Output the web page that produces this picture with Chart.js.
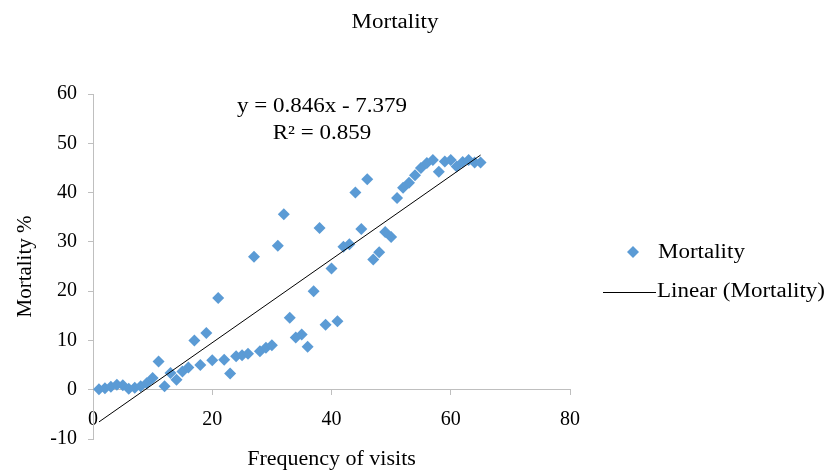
<!DOCTYPE html>
<html>
<head>
<meta charset="utf-8">
<script src="https://cdn.jsdelivr.net/npm/chart.js@4"></script>
<style>
  html, body { margin: 0; padding: 0; background: #fff; }
  #wrap { width: 825px; height: 470px; }
</style>
</head>
<body>
<div id="wrap"><canvas id="chart" width="825" height="470"></canvas></div>
<script>
const visits = [
  1, 2, 3, 4, 5, 6, 7, 8, 9, 10, 11, 12, 13, 14, 15, 16, 17, 18, 19, 20,
  21, 22, 23, 24, 25, 26, 27, 28, 29, 30, 31, 32, 33, 34, 35, 36, 37, 38, 39, 40,
  41, 42, 43, 44, 45, 46, 47, 48, 49, 50, 51, 52, 53, 54, 55, 56, 57, 58, 59, 60,
  61, 62, 63, 64, 65,
];
const mortality = [
  0.1, 0.3, 0.6, 1.0, 0.9, 0.2, 0.4, 0.7, 1.3, 2.4, 5.7, 0.7, 3.4, 2.0, 3.7, 4.5, 10.0, 5.0, 11.5, 6.0,
  18.6, 6.1, 3.3, 6.8, 7.0, 7.3, 27.0, 7.8, 8.5, 9.0, 29.2, 35.6, 14.6, 10.6, 11.2, 8.7, 20.0, 32.8, 13.2, 24.6,
  13.9, 29.0, 29.5, 40.0, 32.6, 42.7, 26.4, 27.9, 32.0, 31.0, 38.9, 41.0, 42.0, 43.5, 45.0, 46.0, 46.6, 44.2, 46.3, 46.6,
  45.3, 46.2, 46.6, 46.1, 46.1,
];

// trendline as printed on the chart
const slope = 0.846;
const intercept = -7.379;
const rSquared = 0.859;
const trendX = [1, 65];

const xTicks = [0, 20, 40, 60, 80];
const yTicks = [-10, 0, 10, 20, 30, 40, 50, 60];

const serif = "'Liberation Serif', 'Times New Roman', serif";
const blue = "#5b9bd5";
const axisGray = "#bfbfbf";

const scatterPoints = visits.map((x, i) => ({ x, y: mortality[i] }));
const trendPoints = trendX.map((x) => ({ x, y: slope * x + intercept }));

// the original renders its serif text a bit wider than Liberation Serif
const wideText = (ctx, text, x, y, align) => {
  ctx.save();
  ctx.translate(x, y);
  ctx.scale(1.15, 1);
  ctx.textAlign = align;
  ctx.fillText(text, 0, 0);
  ctx.restore();
};

const extras = {
  id: "extras",
  afterDraw(chart) {
    const { ctx } = chart;
    ctx.save();
    ctx.fillStyle = "#000";
    ctx.textBaseline = "middle";
    ctx.font = `20px ${serif}`;

    wideText(ctx, "Mortality", 395, 23, "center");

    // trendline label
    wideText(ctx, `y = ${slope}x - ${Math.abs(intercept)}`, 322, 107, "center");
    wideText(ctx, `R² = ${rSquared}`, 322, 134, "center");

    // legend
    ctx.fillStyle = blue;
    ctx.beginPath();
    ctx.moveTo(633, 246);
    ctx.lineTo(639, 252);
    ctx.lineTo(633, 258);
    ctx.lineTo(627, 252);
    ctx.closePath();
    ctx.fill();
    ctx.fillStyle = "#000";
    wideText(ctx, "Mortality", 658, 253, "left");

    ctx.strokeStyle = "#000";
    ctx.lineWidth = 1;
    ctx.beginPath();
    ctx.moveTo(603, 292.5);
    ctx.lineTo(656, 292.5);
    ctx.stroke();
    wideText(ctx, "Linear (Mortality)", 657, 292, "left");
    ctx.restore();
  },
};

new Chart(document.getElementById("chart"), {
  type: "scatter",
  data: {
    datasets: [
      {
        label: "Mortality",
        data: scatterPoints,
        pointStyle: "rectRot",
        pointRadius: 6,
        pointHoverRadius: 6,
        backgroundColor: blue,
        borderColor: blue,
        borderWidth: 0,
        order: 2,
      },
      {
        label: "Linear (Mortality)",
        data: trendPoints,
        showLine: true,
        pointRadius: 0,
        borderColor: "#000",
        borderWidth: 1,
        fill: false,
        order: 1,
      },
    ],
  },
  options: {
    responsive: false,
    animation: false,
    layout: {
      padding: { top: 94, right: 255, bottom: 31, left: 0 },
    },
    plugins: {
      legend: { display: false },
      title: { display: false },
      tooltip: { enabled: false },
    },
    scales: {
      x: {
        type: "linear",
        position: { y: 0 },
        min: 0,
        max: 80,
        afterBuildTicks: (scale) => {
          scale.ticks = xTicks.map((value) => ({ value }));
        },
        border: { color: axisGray, width: 1 },
        grid: { drawOnChartArea: false, drawTicks: true, tickLength: 5, color: axisGray },
        ticks: { color: "#000", font: { family: serif, size: 20 }, padding: 13, maxRotation: 0 },
        title: {
          display: true,
          text: "Frequency of visits",
          color: "#000",
          font: { family: serif, size: 22 },
          padding: { top: 1, bottom: 0 },
        },
      },
      y: {
        type: "linear",
        position: "left",
        min: -10,
        max: 60,
        afterBuildTicks: (scale) => {
          scale.ticks = yTicks.map((value) => ({ value }));
        },
        afterFit: (scale) => {
          scale.width = 93;
        },
        border: { color: axisGray, width: 1 },
        grid: { drawOnChartArea: false, drawTicks: true, tickLength: 5, color: axisGray },
        ticks: { color: "#000", font: { family: serif, size: 20 }, padding: 11 },
        title: {
          display: true,
          text: "Mortality %",
          color: "#000",
          font: { family: serif, size: 21 },
          padding: { top: 13, bottom: 0 },
        },
      },
    },
  },
  plugins: [extras],
});
</script>
</body>
</html>
